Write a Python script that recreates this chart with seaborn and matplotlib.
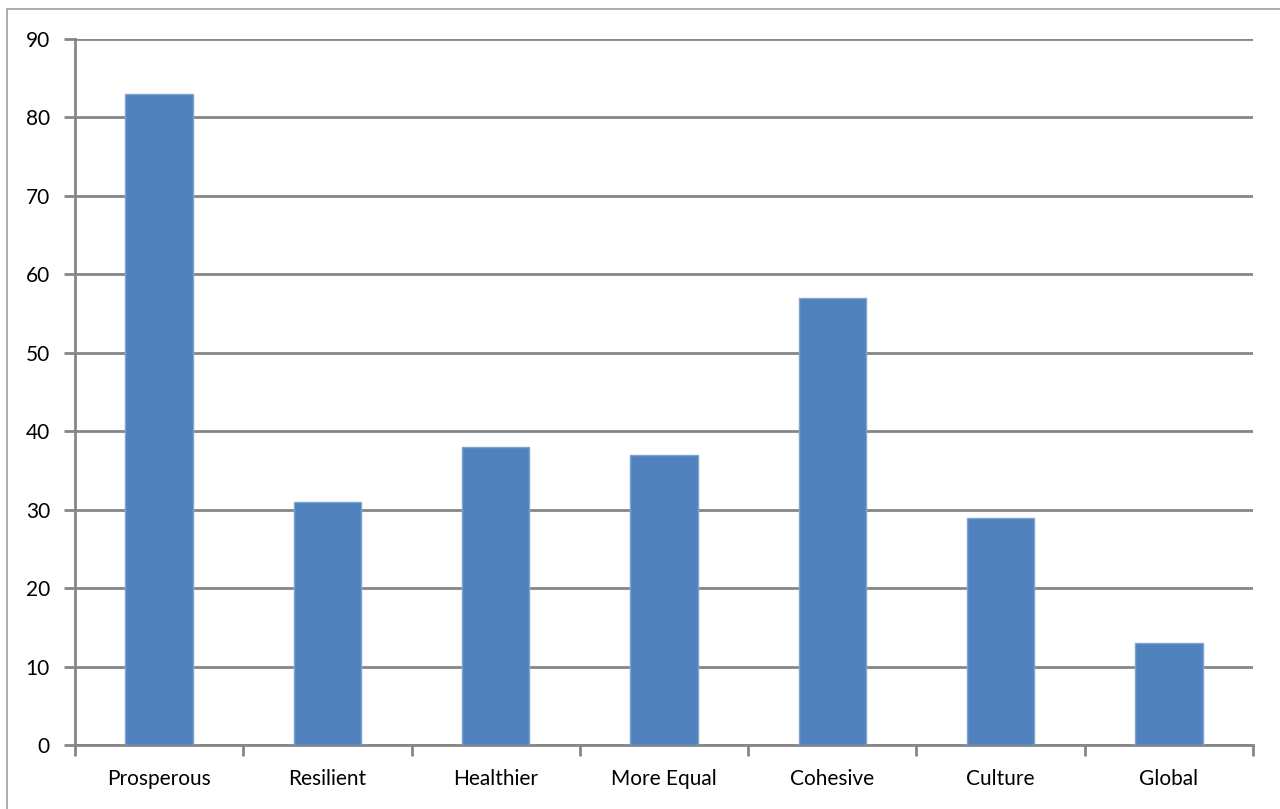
import matplotlib
matplotlib.use("Agg")
import matplotlib.pyplot as plt
from matplotlib.lines import Line2D
from matplotlib.ticker import FixedLocator
import seaborn as sns
import pandas as pd

categories = ["Prosperous", "Resilient", "Healthier", "More Equal", "Cohesive", "Culture", "Global"]
values = [83, 31, 38, 37, 57, 29, 13]
y_ticks = [0, 10, 20, 30, 40, 50, 60, 70, 80, 90]

sns.set_theme(style="white")
plt.rcParams['font.family'] = ['Lato', 'DejaVu Sans']

df = pd.DataFrame({"category": categories, "value": values})

fig = plt.figure(figsize=(12.8, 8.09), dpi=100)
ax = fig.add_axes([75/1280, 1 - 745/809, (1253-75)/1280, (745-39)/809])

grid_col = "#868686"
sns.barplot(data=df, x="category", y="value", color="#4F81BD", saturation=1,
            width=0.40, edgecolor="#7FA3D3", linewidth=1, ax=ax, zorder=3)

ax.set_ylim(0, 90)
ax.set_xlim(-0.5, len(categories) - 0.5)
ax.set_yticks(y_ticks)
ax.set_yticklabels([str(t) for t in y_ticks])
ax.yaxis.grid(True, color=grid_col, linewidth=2)
ax.set_axisbelow(True)
ax.set_xlabel("")
ax.set_ylabel("")

for s in ["top", "right"]:
    ax.spines[s].set_visible(False)
for s in ["left", "bottom"]:
    ax.spines[s].set_color(grid_col)
    ax.spines[s].set_linewidth(2)

ax.tick_params(axis="y", which="major", direction="out", length=8, width=2,
               color=grid_col, labelsize=15, labelcolor="black", pad=10, left=True)
ax.tick_params(axis="x", which="major", length=0, labelsize=15, labelcolor="black", pad=17)
ax.xaxis.set_minor_locator(FixedLocator([i - 0.5 for i in range(len(categories) + 1)]))
ax.tick_params(axis="x", which="minor", direction="out", length=8, width=2,
               color=grid_col, bottom=True)

# outer chart border (left and top visible)
fig.add_artist(Line2D([7/1280, 7/1280], [0, 1 - 9/809], transform=fig.transFigure,
                      color="#A0A0A0", linewidth=1.2))
fig.add_artist(Line2D([7/1280, 1], [1 - 9/809, 1 - 9/809], transform=fig.transFigure,
                      color="#A0A0A0", linewidth=1.2))

fig.savefig("out.png", dpi=100)
